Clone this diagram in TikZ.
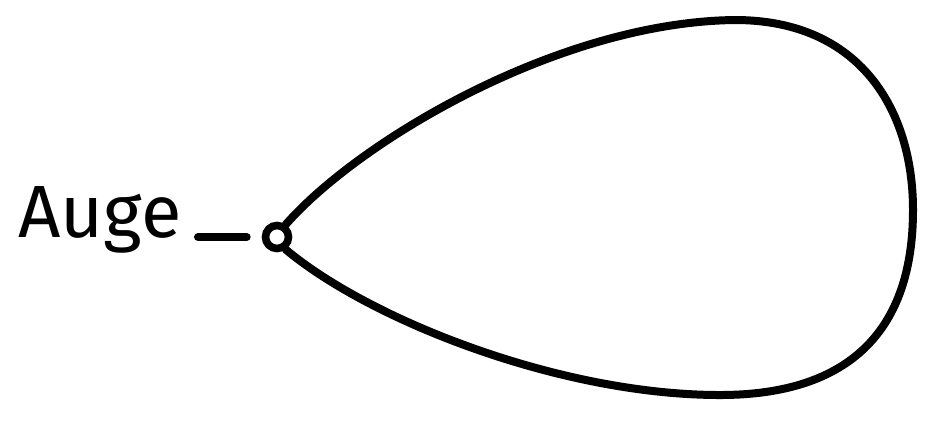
\documentclass[tikz,border=0pt]{standalone}
\usepackage{fontspec}
\setmainfont{Fira Sans}
\usepackage{tikz}
\usetikzlibrary{arrows}

\begin{document}
\begin{tikzpicture}[x=0.5pt,y=-0.5pt]
\useasboundingbox (0,0) rectangle (936,420);
\tikzset{eye/.style = {shape=circle,draw,line width=3.8pt,fill=white,minimum size=11.5pt,inner sep=0pt}}
\tikzset{word/.style = {font=\fontsize{37}{40}\selectfont,anchor=east,inner sep=0pt}}
% vertices
\node[eye] (auge) at (277,237) {};
\node[word] (name) at (182,220) {Auge};
%edges
\tikzset{edge/.style = {line width=4pt,line cap=round,line join=round}}
\draw[edge] (auge.55) .. controls (360,140) and (560,22) .. (735,20)
  .. controls (860,20) and (913,110) .. (913,210)
  .. controls (913,330) and (850,395) .. (720,395)
  .. controls (560,395) and (370,320) .. (auge.-55);
\draw[edge] ([xshift=8pt]name.east |- auge) -- ([xshift=-7.5pt]auge.west);
\end{tikzpicture}
\end{document}
